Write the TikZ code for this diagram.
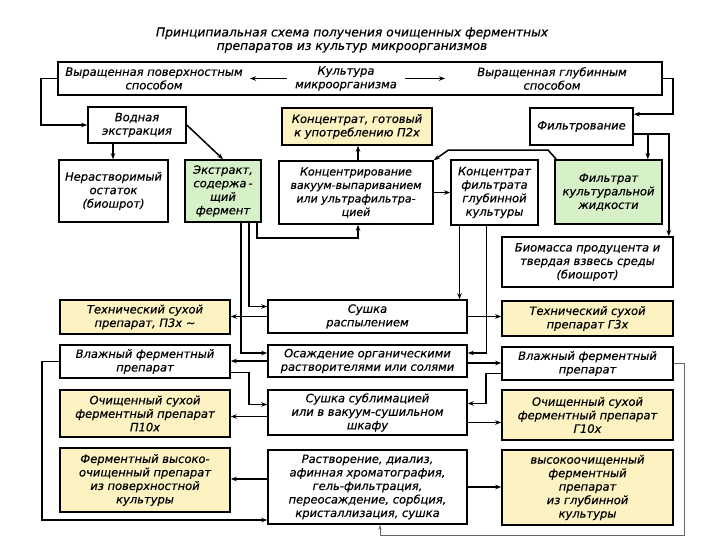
\documentclass[tikz,border=0pt]{standalone}
\usepackage{fontspec}
\setmainfont{DejaVu Sans}[ItalicFeatures={FakeBold=0.4}]
\usetikzlibrary{arrows.meta}
\definecolor{fy}{RGB}{252,242,194}
\definecolor{fg}{RGB}{214,240,200}
\tikzset{
  txt/.style={font=\fontsize{11.5}{13.5}\selectfont\itshape, align=center, inner sep=0pt},
  box/.style={draw, line width=1.6pt, txt, fill=white},
  ybox/.style={box, fill=fy},
  gbox/.style={box, fill=fg},
  arr/.style={line width=1.5pt, -{Stealth[length=6pt,width=4.5pt]}},
  thinarr/.style={line width=0.6pt, draw=black!60, -{Stealth[length=5pt,width=3pt]}}
}
\begin{document}
\begin{tikzpicture}[x=1pt,y=-1pt]
\fill[white] (0,0) rectangle (720,540);
\useasboundingbox (0,0) rectangle (720,540);

\node[txt, font=\fontsize{12.3}{13.5}\selectfont\itshape] (title) at (352,40) {Принципиальная схема получения очищенных ферментных\\препаратов из культур микроорганизмов};

% top box
\node[box, minimum width=604pt, minimum height=33pt] (top) at (360,78.5) {};
\node[txt] (tl) at (154,78.5) {Выращенная поверхностным\\способом};
\node[txt] (tm) at (346,78.5) {Культура\\микроорганизма};
\node[txt] (tr) at (552,78.5) {Выращенная глубинным\\способом};
\draw[arr] ([xshift=-8pt]tm.west) -- ++(-37,0);
\draw[arr] ([xshift=8pt]tm.east) -- ++(40,0);

% row 2
\node[box, minimum width=98pt, minimum height=36pt] (vod) at (137,125) {Водная\\экстракция};
\node[ybox, minimum width=150pt, minimum height=37pt] (konc1) at (357,126.5) {Концентрат, готовый\\к употреблению П2х};
\node[box, minimum width=103pt, minimum height=37pt] (filt) at (581.5,126.5) {Фильтрование};

% row 3
\node[box, minimum width=109pt, minimum height=62pt] (ner) at (113.5,191) {Нерастворимый\\остаток\\(биошрот)};
\node[gbox, minimum width=76pt, minimum height=62pt] (ekstr) at (223,191) {Экстракт,\\содержа\,-\\щий\\фермент};
\node[box, minimum width=154pt, minimum height=63pt, font=\fontsize{11}{13.5}\selectfont\itshape] (koncr) at (356,192.5) {Концентрирование\\вакуум-выпариванием\\или ультрафильтра-\\цией};
\node[box, minimum width=87pt, minimum height=65pt] (koncf) at (494.5,192.5) {Концентрат\\фильтрата\\глубинной\\культуры};
\node[gbox, minimum width=107pt, minimum height=64pt] (filtrat) at (608.5,192) {Фильтрат\\культуральной\\жидкости};

\node[box, minimum width=171pt, minimum height=50pt] (bio) at (587.5,262) {Биомасса продуцента и\\твердая взвесь среды\\(биошрот)};

% lower rows
\node[ybox, minimum width=170pt, minimum height=34pt] (tech1) at (145,317) {Технический сухой\\препарат, П3х ∼};
\node[box, minimum width=199pt, minimum height=33pt] (sush) at (367.5,316.5) {Сушка\\распылением};
\node[ybox, minimum width=171pt, minimum height=35pt] (tech2) at (587.5,318.5) {Технический сухой\\препарат Г3х};

\node[box, minimum width=170pt, minimum height=33pt] (vl1) at (145,361.5) {Влажный ферментный\\препарат};
\node[box, minimum width=199pt, minimum height=32pt] (osazh) at (367.5,361) {Осаждение органическими\\растворителями или солями};
\node[box, minimum width=171pt, minimum height=33pt] (vl2) at (587.5,363.5) {Влажный ферментный\\препарат};

\node[ybox, minimum width=170pt, minimum height=47pt] (och1) at (145,413.5) {Очищенный сухой\\ферментный препарат\\П10х};
\node[box, minimum width=199pt, minimum height=45pt] (sub) at (367.5,412.5) {Сушка сублимацией\\или в вакуум-сушильном\\шкафу};
\node[ybox, minimum width=171pt, minimum height=50pt] (och2) at (587.5,415) {Очищенный сухой\\ферментный препарат\\Г10х};

\node[ybox, minimum width=170pt, minimum height=64pt] (vys1) at (145,480) {Ферментный высоко-\\очищенный препарат\\из поверхностной\\культуры};
\node[box, minimum width=199pt, minimum height=74pt] (rast) at (367.5,487) {Растворение, диализ,\\афинная хроматография,\\гель-фильтрация,\\переосаждение, сорбция,\\кристаллизация, сушка};
\node[ybox, minimum width=171pt, minimum height=75pt] (vys2) at (587.5,487.5) {высокоочищенный\\ферментный\\препарат\\из глубинной\\культуры};

% connectors
\draw[arr] (top.west) -- ++(-16,0) |- (vod.west);
\draw[arr] (top.east) -- ++(10,0) |- ([yshift=-7pt]filt.north east);
\draw[arr] ([xshift=-24pt]vod.south) -- ([xshift=-24pt]vod.south |- ner.north);
\draw[arr] (vod.east) -- (ekstr.north);
\draw[arr] ([xshift=2pt]koncr.north) -- ([xshift=2pt]koncr.north |- konc1.south);
\draw[arr] ([xshift=34pt]ekstr.south) -- ++(0,15) -| ([xshift=2pt]koncr.south);
\draw[arr] (koncr.east) -- (koncr.east -| koncf.west);
\coordinate (f1) at ([xshift=2pt]filtrat.north west);
\draw[arr] (f1) -- ++(-8,-9) -- ++(-100,0) -- (koncr.north east);
\coordinate (j1) at ([xshift=14pt,yshift=12pt]filt.south east);
\draw[line width=1.5pt] ([yshift=12pt]filt.south east) -- (j1);
\draw[arr] (j1) -- (j1 |- filtrat.north);
\draw[arr] (j1) -| ([xshift=-5pt]bio.north east);

\draw[arr] ([xshift=18pt]ekstr.south) |- ([yshift=8pt]osazh.west);
\draw[arr] ([xshift=26pt]ekstr.south) |- ([yshift=10pt]sush.west);
\draw[arr] (sush.west) -- (sush.west -| tech1.east);
\draw[arr] (osazh.west) -- (osazh.west -| vl1.east);
\draw[arr] ([yshift=-11pt]vl1.east) -- ++(18,0) |- ([yshift=8pt]sub.west);
\draw[arr] ([yshift=-4pt]sub.west) -- ([yshift=-4pt]sub.west -| och1.east);
\draw[arr] ([yshift=8pt]rast.west) -- ([yshift=8pt]rast.west -| vys1.east);
\draw[arr] (vl1.west) -- ++(-17,0) |- ([yshift=-33pt]rast.west);

\draw[arr] ([xshift=-35pt]koncf.south) -- ([xshift=-35pt]koncf.south |- sush.north);
\draw[arr] ([xshift=-8pt]koncf.south) |- ([yshift=8pt]osazh.east);
\draw[arr] (sush.east) -- (sush.east -| tech2.west);
\draw[arr] ([yshift=-2pt]osazh.east) -- ([yshift=-2pt]osazh.east -| vl2.west);
\draw[arr] ([yshift=-10pt]vl2.west) -- ++(-15,0) |- ([yshift=9pt]sub.east);
\draw[arr] ([yshift=-10pt]sub.east) -- ([yshift=-10pt]sub.east -| och2.west);
\draw[arr] (rast.east) -- (rast.east -| vys2.west);
\draw[thinarr] (vl2.east) -- ++(10,0) -- ++(0,171.5) -| ([xshift=12.5pt]rast.south);
\end{tikzpicture}
\end{document}
